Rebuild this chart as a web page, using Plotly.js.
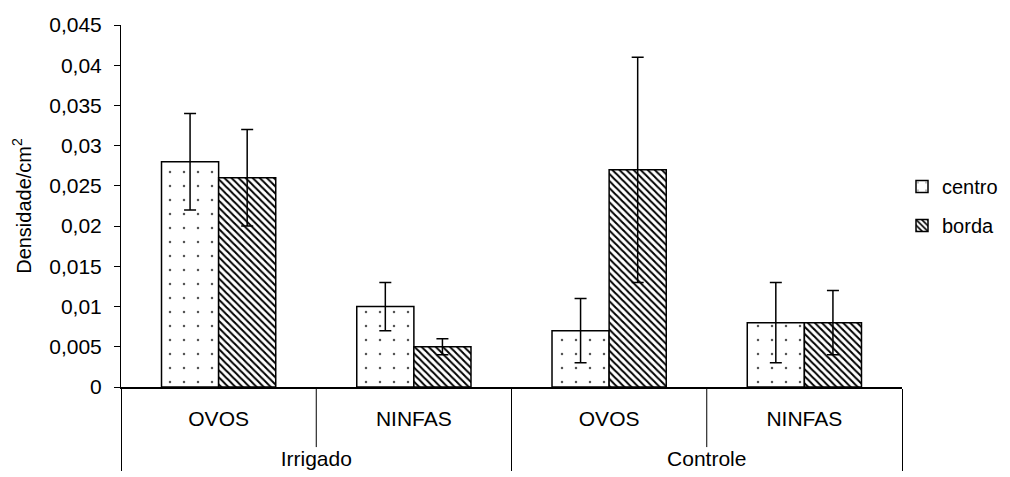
<!DOCTYPE html>
<html>
<head>
<meta charset="utf-8">
<script src="https://cdn.plot.ly/plotly-3.0.1.min.js"></script>
<style>html,body{margin:0;padding:0;background:#fff;}</style>
</head>
<body>
<div id="chart" style="width:1010px;height:477px;"></div>
<script>
// ---- data ----
var groups = ['Irrigado', 'Irrigado', 'Controle', 'Controle'];
var stages = ['OVOS', 'NINFAS', 'OVOS', 'NINFAS'];
var centro = [0.028, 0.010, 0.007, 0.008];
var centroErr = [0.006, 0.003, 0.004, 0.005];
var borda = [0.026, 0.005, 0.027, 0.008];
var bordaErr = [0.006, 0.001, 0.014, 0.004];
var yTickVals = [0, 0.005, 0.01, 0.015, 0.02, 0.025, 0.03, 0.035, 0.04, 0.045];
var yTickText = ['0', '0,005', '0,01', '0,015', '0,02', '0,025', '0,03', '0,035', '0,04', '0,045'];
var seriesNames = ['centro', 'borda'];

var FONT = 'Liberation Sans, Arial, sans-serif';

// group labels drawn one line lower (empty first line) so they sit under the stage labels
var groupLabels = groups.map(function (g) { return '<br>' + g; });

var errStyle = {type: 'data', visible: true, color: '#000', thickness: 1.5, width: 6};

var traces = [
  {
    type: 'bar', name: seriesNames[0], legendgroup: 'a',
    x: [groupLabels, stages], y: centro,
    error_y: Object.assign({array: centroErr}, errStyle),
    marker: {color: '#fff', line: {color: '#000', width: 1.5},
             pattern: {shape: '.', fgcolor: '#555', bgcolor: '#fff', size: 14, solidity: 0.025}}
  },
  {
    type: 'bar', name: seriesNames[1], legendgroup: 'b',
    x: [groupLabels, stages], y: borda,
    error_y: Object.assign({array: bordaErr}, errStyle),
    marker: {color: '#fff', line: {color: '#000', width: 1.5},
             pattern: {shape: '\\', fgcolor: '#000', bgcolor: '#fff', size: 5, solidity: 0.4}}
  }
];

// inner category boundary lines (between stages within a group)
var shapes = [];
var n = stages.length;
for (var i = 1; i < n; i++) {
  if (groups[i] === groups[i - 1]) {
    shapes.push({type: 'line', xref: 'paper', yref: 'paper',
      x0: i / n, x1: i / n, y0: 0, y1: -0.166,
      line: {color: '#000', width: 1}});
  }
}

var layout = {
  width: 1010, height: 477,
  margin: {l: 121, r: 108, t: 25, b: 90, autoexpand: false},
  paper_bgcolor: '#fff', plot_bgcolor: '#fff',
  separators: ',.',
  font: {family: FONT, size: 21, color: '#000'},
  barmode: 'group', bargap: 0.415, bargroupgap: 0,
  showlegend: true,
  legend: {x: 1.0, y: 0.5, xanchor: 'left', yanchor: 'middle',
           traceorder: 'grouped', tracegroupgap: 10, itemwidth: 30,
           font: {family: FONT, size: 20, color: '#000'}},
  xaxis: {
    type: 'multicategory',
    showline: true, linecolor: '#000', linewidth: 1.5,
    ticks: '', ticklabelstandoff: 12,
    showgrid: false, zeroline: false,
    showdividers: true, dividercolor: '#000', dividerwidth: 1,
    tickfont: {family: FONT, size: 21, color: '#000'}
  },
  yaxis: {
    range: [0, 0.045],
    tickvals: yTickVals, ticktext: yTickText,
    ticks: 'outside', ticklen: 6, tickcolor: '#000', tickwidth: 1,
    ticklabelstandoff: 8,
    showline: true, linecolor: '#000', linewidth: 1,
    showgrid: false, zeroline: false,
    tickfont: {family: FONT, size: 21, color: '#000'},
    title: {text: 'Densidade/cm<sup>2</sup>', standoff: 12,
            font: {family: FONT, size: 20, color: '#000'}}
  },
  shapes: shapes
};

Plotly.newPlot('chart', traces, layout, {displayModeBar: false, staticPlot: true});
</script>
</body>
</html>
